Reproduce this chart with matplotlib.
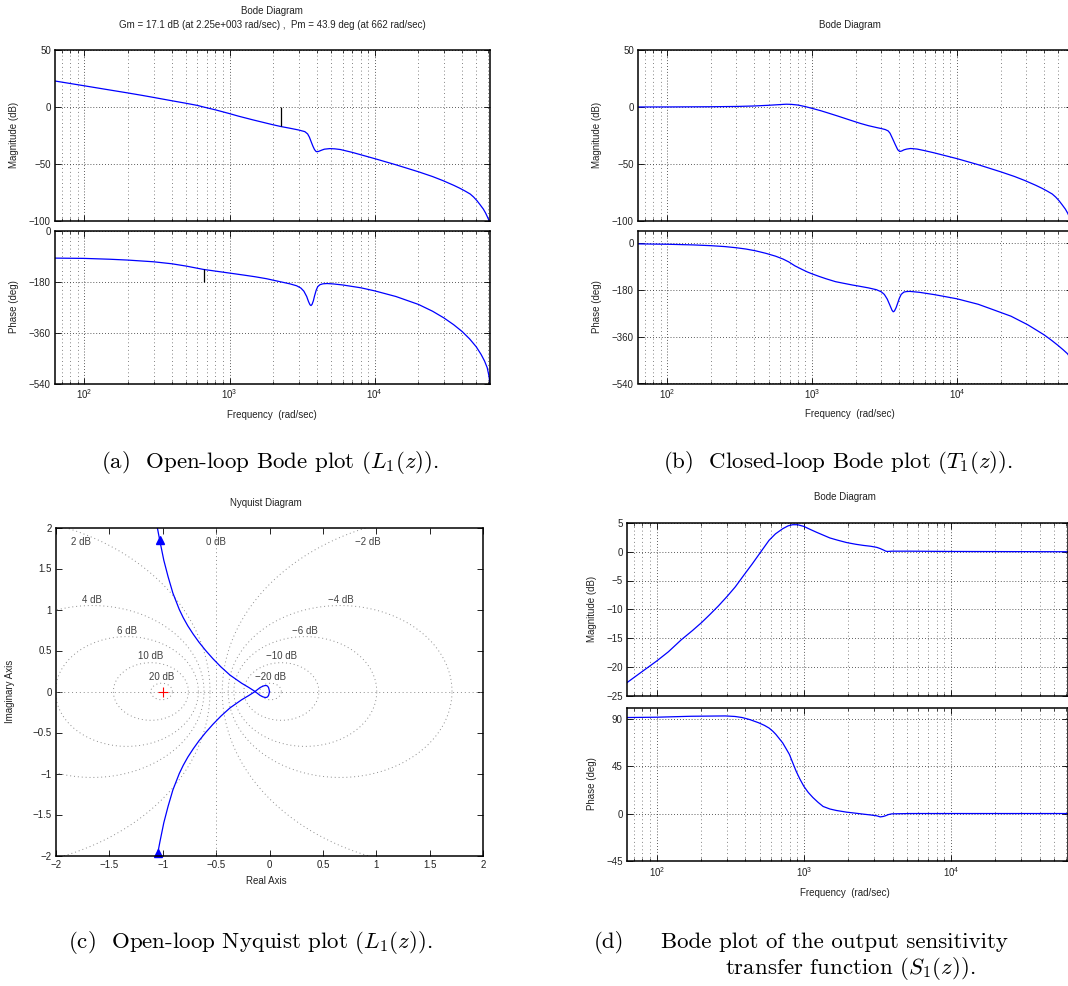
import numpy as np
import matplotlib
matplotlib.use('Agg')
import matplotlib.pyplot as plt
from matplotlib.ticker import LogLocator, NullFormatter, MultipleLocator, FuncFormatter

# ---------------- data ----------------
W_MIN, W_MAX = 62.83, 62200.0

# (a) open-loop L1
freq_a_mag = [62.8, 100, 130, 200, 250, 300, 400, 500, 600, 662, 800, 1000, 1150, 1450,
              1950, 2250, 2600, 3000, 3300, 3450, 3550, 3650, 3750, 3850, 3950, 4050,
              4150, 4300, 4500, 4900, 5300, 5800, 7000, 10000, 14000, 20200, 25000,
              29400, 35000, 38600, 42000, 45400, 48000, 50600, 53000, 56000, 58000,
              60000, 61500, 62200]
mag_a = [22.8, 18.6, 16.2, 12.3, 10.2, 8.4, 5.5, 3.3, 1.4, 0.0, -2.5, -5.8, -8.0, -11.3,
         -15.3, -17.1, -18.6, -20.2, -21.6, -23.6, -26.5, -30.5, -34.3, -37.4, -39.1,
         -39.2, -38.7, -37.9, -37.0, -36.5, -36.7, -37.3, -39.8, -45.3, -50.7, -57.0,
         -61.0, -64.5, -68.7, -71.3, -73.8, -76.3, -79.0, -82.2, -85.5, -89.6, -93.0,
         -97.0, -100.0, -104.0]
freq_a_ph = [62.8, 100, 150, 200, 300, 400, 500, 662, 800, 1000, 1250, 1500, 1800, 2250,
             2600, 2900, 3100, 3250, 3400, 3500, 3580, 3640, 3700, 3780, 3850, 3950,
             4050, 4200, 4400, 4700, 5200, 6000, 8000, 10000, 14000, 20000, 25000,
             30000, 35000, 40000, 45000, 50000, 54000, 57000, 59500, 61000, 61800, 62200]
phase_a = [-96, -97, -100, -103, -109, -116, -124, -136.1, -142, -149, -156, -162, -169,
           -180, -187, -194, -202, -213, -232, -250, -261, -264, -260, -247, -230, -210,
           -197, -190, -187, -186, -187.5, -191, -201, -212, -232, -260, -284,
           -308, -332, -356, -382, -410, -437, -460, -484, -510, -530, -545]
gm_db, gm_freq = 17.1, 2250.0
pm_deg, pm_freq = 43.9, 662.0

# (b) closed-loop T1
freq_b_mag = [62.8, 100, 200, 300, 400, 500, 580, 662, 720, 800, 900, 1000, 1150, 1300,
              1500, 1800, 2140, 2450, 2780, 3000, 3200, 3350, 3450, 3600, 3750, 3900,
              4020, 4150, 4300, 4500, 4780, 5300, 5940, 7000, 10000, 14000, 20200,
              25000, 29400, 35000, 38600, 42000, 45400, 48000, 50600, 53000, 56000,
              58000, 60000, 62200]
mag_b = [0.02, 0.05, 0.23, 0.47, 0.9, 1.5, 2.0, 2.45, 2.3, 1.7, 0.3, -1.2, -3.3, -5.4,
         -7.9, -11.2, -14.3, -16.4, -18.0, -18.9, -19.8, -21.0, -23.0, -28.0, -33.0,
         -37.5, -39.0, -38.6, -37.6, -36.9, -36.4, -36.9, -38.2, -40.3, -45.3, -50.6,
         -57.0, -61.0, -64.5, -68.7, -71.3, -73.8, -76.3, -79.0, -82.2, -85.5, -89.6,
         -93.0, -97.0, -104.0]
freq_b_ph = [62.8, 100, 150, 200, 250, 300, 350, 405, 480, 560, 630, 690, 760, 860, 930,
             1000, 1120, 1250, 1450, 1640, 1900, 2140, 2450, 2780, 3000, 3150, 3300,
             3450, 3560, 3630, 3700, 3800, 3900, 4000, 4120, 4300, 4500, 4740, 5500,
             7000, 10000, 14000, 17000, 23600, 30800, 35000, 40000, 45000, 49700,
             54000, 57800, 62200]
phase_b = [-2.6, -4, -6.5, -9.5, -13, -17.5, -22.5, -29, -39, -50, -61, -72, -87, -102,
           -111, -118, -128, -137, -148, -154, -161, -166, -172, -179, -187, -197, -215,
           -240, -258, -264, -261, -248, -230, -212, -197, -188, -186, -185.5, -189,
           -198, -214, -235, -252, -281, -314, -333, -353, -374, -393,
           -410, -425, -450]

# (c) Nyquist of L1 (positive-frequency branch; the negative one is its mirror)
nyq_re = [-1.07, -1.051, -1.027, -0.99, -0.95, -0.905, -0.845, -0.808, -0.765, -0.715,
          -0.66, -0.598, -0.53, -0.455, -0.37, -0.26, -0.195, -0.135, -0.11, -0.088,
          -0.060, -0.041, -0.025, -0.016, -0.008, -0.004, 0.0]
nyq_im = [-2.2, -2.0, -1.836, -1.6, -1.4, -1.2, -1.0, -0.9, -0.8, -0.7, -0.6, -0.5,
          -0.4, -0.3, -0.2, -0.1, -0.05, 0.0, 0.026, 0.048, 0.066, 0.073, 0.071, 0.062,
          0.045, 0.023, 0.0]
arrow_re = [-1.026, -1.045]
arrow_im = [1.844, -1.965]
m_db = [20, 10, 6, 4, 2, 0, -2, -4, -6, -10, -20]
m_label_x = [-1.01, -1.112, -1.339, -1.665, -1.767, -0.505, 0.917, 0.668, 0.332, 0.109, 0.013]
m_label_y = [0.176, 0.430, 0.742, 1.119, 1.824, 1.824, 1.824, 1.119, 0.742, 0.430, 0.176]

# (d) output sensitivity S1
freq_d_mag = [62.5, 80, 100, 120, 147, 175, 202, 230, 263, 300, 342, 390, 446, 510, 580,
              640, 717, 780, 837, 907, 1000, 1100, 1215, 1350, 1500, 1700, 1950, 2250,
              2540, 2850, 3130, 3300, 3470, 3600, 3700, 3960, 5280, 10000, 62200]
mag_d = [-22.8, -20.8, -19.0, -17.4, -15.3, -13.7, -12.3, -10.9, -9.4, -7.8, -6.1, -4.1,
         -2.1, 0.0, 2.0, 3.1, 4.0, 4.5, 4.7, 4.7, 4.4, 3.9, 3.4, 2.9, 2.4, 2.0, 1.6, 1.3,
         1.1, 0.95, 0.76, 0.55, 0.3, 0.1, 0.05, 0.1, 0.1, 0.05, 0.0]
freq_d_ph = [62.5, 100, 172, 292, 340, 380, 430, 493, 540, 580, 615, 645, 680, 717, 760,
             797, 840, 886, 940, 1000, 1070, 1150, 1250, 1350, 1500, 1660, 1950, 2250,
             2540, 2850, 3130, 3300, 3450, 3570, 3750, 3960, 5280, 62200]
phase_d = [91, 91.3, 92.2, 92.5, 92, 91, 89, 86, 83.5, 81, 78, 75, 71, 67, 61, 56, 48,
           40, 32.5, 25.7, 20, 15.2, 10.5, 6.7, 4.3, 2.9, 1.3, 0.3, -0.6, -1.4, -2.2,
           -3.2, -2.8, -2.2, -1.0, -0.3, 0.0, 0.0]

# ---------------- figure ----------------
W, H = 1068, 986
plt.rcParams['font.family'] = ['Liberation Sans', 'DejaVu Sans']
plt.rcParams['font.size'] = 7
plt.rcParams['mathtext.fontset'] = 'custom'
plt.rcParams['mathtext.rm'] = 'Liberation Sans'
plt.rcParams['mathtext.it'] = 'Liberation Sans:italic'
plt.rcParams['mathtext.bf'] = 'Liberation Sans:bold'

fig = plt.figure(figsize=(W / 100, H / 100), dpi=100)
BLUE = '#0000ff'
TXT = '#222222'
num_fmt = FuncFormatter(lambda v, p: ('%g' % v).replace('-', '\u2212'))


def px_axes(x0, y0, x1, y1):
    return fig.add_axes([x0 / W, 1 - y1 / H, (x1 - x0) / W, (y1 - y0) / H])


def ftext(x, y, s, **kw):
    kw.setdefault('ha', 'center')
    kw.setdefault('va', 'center')
    kw.setdefault('color', TXT)
    return fig.text(x / W, 1 - y / H, s, **kw)


def style(ax):
    ax.tick_params(which='major', direction='in', top=True, right=True, length=4,
                   width=0.6, labelsize=7, pad=3, colors='black', labelcolor=TXT)
    ax.tick_params(which='minor', direction='in', top=True, right=True, length=2, width=0.5)
    for s in ax.spines.values():
        s.set_linewidth(1.1)


def bode_ax(x0, x1, y0, y1, ylim, ystep, xlabels):
    ax = px_axes(x0, y0, x1, y1)
    ax.set_xscale('log')
    ax.set_xlim(W_MIN, W_MAX)
    ax.set_ylim(*ylim)
    ax.xaxis.set_major_locator(LogLocator(base=10, numticks=10))
    ax.xaxis.set_minor_locator(LogLocator(base=10, subs=np.arange(2, 10), numticks=30))
    ax.xaxis.set_minor_formatter(NullFormatter())
    ax.yaxis.set_major_locator(MultipleLocator(ystep))
    ax.yaxis.set_major_formatter(num_fmt)
    ax.grid(True, which='major', axis='both', color='0.15', ls=(0, (1, 2.5)), lw=0.6)
    ax.grid(True, which='minor', axis='x', color='0.35', ls=(0, (1, 3.5)), lw=0.6)
    style(ax)
    if not xlabels:
        ax.tick_params(labelbottom=False)
    return ax


# (a) open-loop Bode
ax = bode_ax(55, 490, 50, 221, (-100, 50), 50, False)
ax.plot(freq_a_mag, mag_a, color=BLUE, lw=0.9)
ax.vlines(gm_freq, -gm_db, 0, color='black', lw=0.9)
ax = bode_ax(55, 490, 231, 383.5, (-540, 0), 180, True)
ax.plot(freq_a_ph, phase_a, color=BLUE, lw=0.9)
ax.vlines(pm_freq, -180, -180 + pm_deg, color='black', lw=0.9)
ftext(272, 11.5, 'Bode Diagram')
ftext(272, 25, 'Gm = %.1f dB (at 2.25e+003 rad/sec) ,  Pm = %.1f deg (at %d rad/sec)'
      % (gm_db, pm_deg, pm_freq))
ftext(14, 135, 'Magnitude (dB)', rotation=90)
ftext(14, 307, 'Phase (deg)', rotation=90)
ftext(272, 415, 'Frequency  (rad/sec)')

# (b) closed-loop Bode
ax = bode_ax(638, 1072, 50, 221, (-100, 50), 50, False)
ax.plot(freq_b_mag, mag_b, color=BLUE, lw=0.9)
ax = bode_ax(638, 1072, 231, 383.5, (-540, 47), 180, True)
ax.plot(freq_b_ph, phase_b, color=BLUE, lw=0.9)
ftext(850, 24.5, 'Bode Diagram')
ftext(597, 135, 'Magnitude (dB)', rotation=90)
ftext(597, 307, 'Phase (deg)', rotation=90)
ftext(850, 414, 'Frequency  (rad/sec)')

# (c) Nyquist
ax = px_axes(56, 527.5, 483, 855.5)
ax.set_xlim(-2, 2)
ax.set_ylim(-2, 2)
ax.xaxis.set_major_locator(MultipleLocator(0.5))
ax.yaxis.set_major_locator(MultipleLocator(0.5))
ax.xaxis.set_major_formatter(num_fmt)
ax.yaxis.set_major_formatter(num_fmt)
style(ax)
grid_kw = dict(color='0.55', ls=(0, (1, 3)), lw=0.7)
theta = np.linspace(0, 2 * np.pi, 721)
for db in m_db:
    if db == 0:
        ax.axvline(-0.5, **grid_kw)
        continue
    m = 10 ** (db / 20.0)
    c = -m ** 2 / (m ** 2 - 1)
    r = abs(m / (m ** 2 - 1))
    ax.plot(c + r * np.cos(theta), r * np.sin(theta), **grid_kw)
ax.axhline(0, **grid_kw)
for x, y, db in zip(m_label_x, m_label_y, m_db):
    lbl = ('%d dB' % db).replace('-', '\u2212')
    ax.text(x, y, lbl, ha='center', va='center', fontsize=7, color='0.25')
ax.plot(nyq_re, nyq_im, color=BLUE, lw=0.9)
ax.plot(nyq_re, [-v for v in nyq_im], color=BLUE, lw=0.9)
ax.plot(arrow_re, arrow_im, ls='none', marker='^', ms=6, color=BLUE, clip_on=False)
ax.plot([-1], [0], ls='none', marker='+', ms=7, mew=0.8, color='red')
ftext(266, 503, 'Nyquist Diagram')
ftext(10, 691, 'Imaginary Axis', rotation=90)
ftext(266, 881.5, 'Real Axis')

# (d) output sensitivity Bode
ax = bode_ax(627, 1068, 523, 695.5, (-25, 5), 5, False)
ax.plot(freq_d_mag, mag_d, color=BLUE, lw=0.9)
ax = bode_ax(627, 1068, 707.5, 861, (-45, 100.5), 45, True)
ax.plot(freq_d_ph, phase_d, color=BLUE, lw=0.9)
ftext(845, 497, 'Bode Diagram')
ftext(592, 609, 'Magnitude (dB)', rotation=90)
ftext(592, 784, 'Phase (deg)', rotation=90)
ftext(845, 892.5, 'Frequency  (rad/sec)')

# captions
cap = dict(family='cmr10', math_fontfamily='cm', fontsize=16.5, color='black')
ftext(270, 462, r'(a)  Open-loop Bode plot $(L_1(z))$.', **cap)
ftext(838, 462, r'(b)  Closed-loop Bode plot $(T_1(z))$.', **cap)
ftext(250, 942, r'(c)  Open-loop Nyquist plot $(L_1(z))$.', **cap)
ftext(609, 942, '(d)', **cap)
ftext(834, 942, 'Bode plot of the output sensitivity', **cap)
ftext(850, 968, r'transfer function $(S_1(z))$.', **cap)

fig.savefig('out.png', dpi=100)
